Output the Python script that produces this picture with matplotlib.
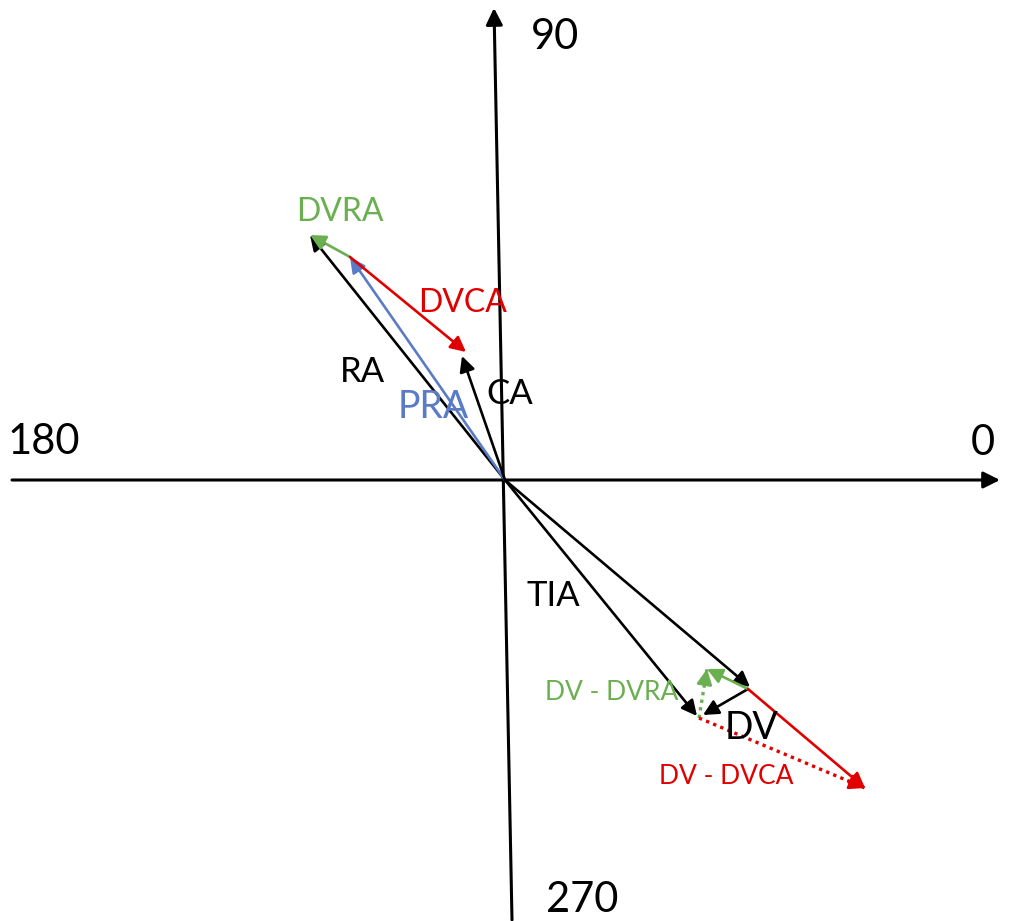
import matplotlib.pyplot as plt

plt.rcParams['font.family'] = ['Lato', 'DejaVu Sans']

BLACK = 'black'
GREEN = '#6AAF50'
RED = '#E00000'
BLUE = '#5A7BC6'

# vector endpoints, relative to the origin of the polar diagram (x right, y up)
ra = (-195, 245)
pra = (-155, 223)
ca = (-43, 124)
dvca_tip = (-39, 128)
tia = (192, -236)
tia2 = (245, -207)
dv_start = (243, -209)
dv_end = (198, -235)
dvra_low_tip = (202, -189)
dv_dvra_start = (194, -238)
dvca_low_tip = (360, -308)

# axis ends
h_axis = [(-493, 0), (495, 0)]
v_axis = [(7, -440), (-11, 472)]

axis_labels = ['0', '90', '180', '270']
axis_label_pos = [(478, 37), (50, 443), (-461, 38), (77, -420)]

fig = plt.figure(figsize=(10.15, 9.21), dpi=100)
ax = fig.add_axes([0, 0, 1, 1])
ax.set_xlim(-505, 510)
ax.set_ylim(-441, 480)
ax.axis('off')


def arrow(start, end, color, lw=1.9, scale=23):
    ax.annotate('', xy=end, xytext=start,
                arrowprops=dict(arrowstyle='-|>', color=color, lw=lw,
                                shrinkA=0, shrinkB=0, mutation_scale=scale))


def dotted_arrow(start, end, color):
    ax.plot([start[0], end[0]], [start[1], end[1]], color=color, lw=2.4,
            ls=(0, (1, 1.3)))
    # solid head on the last bit of the segment
    near = (start[0] + 0.9 * (end[0] - start[0]), start[1] + 0.9 * (end[1] - start[1]))
    arrow(near, end, color)


# axes
arrow(h_axis[0], h_axis[1], BLACK, lw=2.2, scale=25)
arrow(v_axis[0], v_axis[1], BLACK, lw=2.2, scale=25)

o = (0, 0)
# upper left cluster
arrow(o, ra, BLACK)
arrow(o, pra, BLUE)
arrow(pra, ra, GREEN)
arrow(o, ca, BLACK)
arrow(pra, dvca_tip, RED)

# lower right cluster
arrow(o, tia, BLACK)
arrow(o, tia2, BLACK)
arrow(dv_start, dv_end, BLACK)
arrow(dv_start, dvra_low_tip, GREEN)
dotted_arrow(dv_dvra_start, dvra_low_tip, GREEN)
arrow(dv_start, dvca_low_tip, RED)
dotted_arrow(dv_dvra_start, dvca_low_tip, RED)

for txt, (x, y) in zip(axis_labels, axis_label_pos):
    ax.text(x, y, txt, fontsize=30, ha='center', va='center')

labels = [
    ('DVRA', (-165, 268), GREEN, 23),
    ('DVCA', (-42, 177), RED, 23),
    ('RA', (-143, 108), BLACK, 25),
    ('PRA', (-72, 73), BLUE, 27),
    ('CA', (5, 86), BLACK, 25),
    ('TIA', (48, -116), BLACK, 25),
    ('DV - DVRA', (107, -213), GREEN, 19),
    ('DV', (247, -248), BLACK, 27),
    ('DV - DVCA', (221, -297), RED, 19),
]
for txt, (x, y), c, fs in labels:
    ax.text(x, y, txt, color=c, fontsize=fs, ha='center', va='center')

fig.savefig('out.png', dpi=100)
